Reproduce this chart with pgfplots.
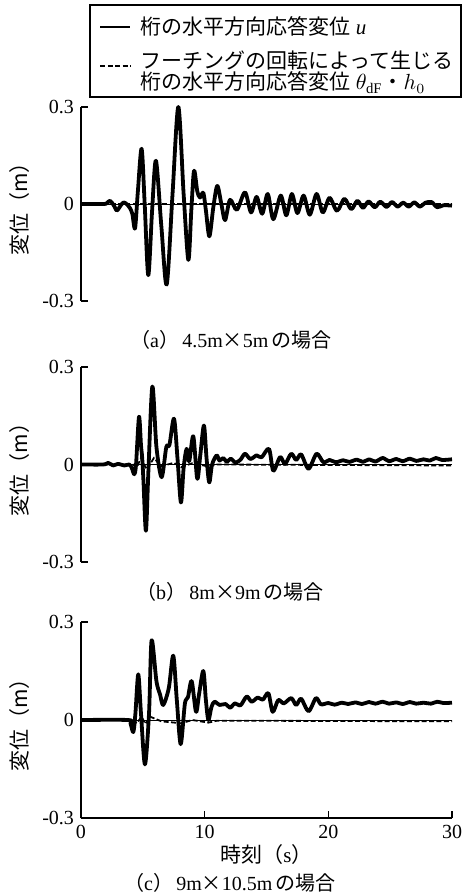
\documentclass[border=0pt]{standalone}
\usepackage{fontspec}
\setmainfont{Liberation Serif}
\newfontfamily\jp{Noto Sans CJK JP}
\newcommand{\J}[1]{{\jp #1}}
\usepackage{pgfplots}
\pgfplotsset{compat=1.18}

% shared look of the three panels
\pgfplotsset{
  panel/.style={
    scale only axis,
    width=185.5pt,
    xmin=0, xmax=30, ymin=-0.3, ymax=0.3,
    axis y line*=left,
    clip=false,
    ytick={-0.3,0,0.3},
    yticklabels={-0.3,0,0.3},
    tick align=inside,
    major tick length=3.5pt,
    axis line style={line width=0.6pt},
    tick style={line width=0.6pt,black},
    tick label style={font=\fontsize{10}{12}\selectfont},
    every axis y label/.style={at={(axis description cs:0,0.5)},xshift=-30.5pt,rotate=90,anchor=center},
    ylabel={\fontsize{10.5}{12}\selectfont\J{変位（m）}},
    anchor=south west,
  },
  resp/.style={black,line width=1.9pt,smooth,line join=round},
  rot/.style={black,line width=0.9pt,dash pattern=on 2.5pt off 1.2pt},
  zero/.style={black,line width=0.5pt,forget plot},
}

\begin{document}
\begin{tikzpicture}
\useasboundingbox (0,0) rectangle (231.5pt,-447.5pt);

% (a) 4.5m x 5m
\begin{axis}[panel, at={(40.5pt,-150.5pt)}, height=97pt,
  axis x line=none,
  legend style={at={(axis description cs:0.0485,1.4845)},anchor=north west,
    draw=none,fill=none,inner xsep=0pt,inner ysep=0pt,
    font=\fontsize{10.5}{10.5}\selectfont,row sep=3.8pt,column sep=3pt,
    nodes={inner sep=1.5pt}},
  legend cell align=left,
  legend image code/.code={\draw[#1,line width=1.1pt] (0pt,0pt) -- (15pt,0pt);},
]
\addplot[resp] coordinates {
(0,0) (1.8,0) (2.1,0.003) (2.35,0.01) (2.65,-0.004) (2.9,-0.02) (3.2,-0.005) (3.45,0.005)
(3.75,-0.002) (3.95,-0.012) (4.15,-0.03) (4.37,-0.075) (4.6,0.04) (4.9,0.171) (5.15,0.0)
(5.44,-0.22) (5.75,-0.02) (6.06,0.134) (6.5,-0.07) (6.93,-0.249) (7.4,0.03) (7.87,0.30)
(8.3,0.03) (8.68,-0.173) (8.92,-0.02) (9.14,0.103) (9.4,0.04) (9.62,0.02) (9.89,0.035)
(10.1,-0.02) (10.38,-0.10) (10.7,-0.01) (11.02,0.056) (11.35,0.0) (11.65,-0.05)
(12.05,0.013) (12.6,-0.018) (13.26,0.036) (13.75,-0.026) (14.2,0.022) (14.65,-0.03)
(15.1,0.031) (15.55,-0.047) (16.15,0.026) (16.6,-0.035) (17.05,0.031) (17.5,-0.028)
(18.0,0.026) (18.5,-0.033) (19.05,0.031) (19.55,-0.026) (20.1,0.019) (20.7,-0.021)
(21.3,0.016) (21.85,-0.016) (22.35,0.01) (22.8,-0.012) (23.25,0.008) (23.75,-0.01)
(24.2,0.007) (24.7,-0.009) (25.15,0.006) (25.6,-0.008) (26.05,0.004) (26.5,-0.008)
(26.95,0.005) (27.4,-0.008) (27.85,0.004) (28.35,0.006) (28.8,-0.01) (29.3,-0.004) (30,-0.005)
};
\addlegendentry{\J{桁の水平方向応答変位}\ \textit{u}}
\addplot[rot] coordinates {(0,0) (30,0)};
\addlegendentry{$\vcenter{\baselineskip=10.6pt
  \hbox{\J{フーチングの回転によって生じる}}
  \hbox{\J{桁の水平方向応答変位}\ $\theta_{\mathrm{dF}}$\J{・}$h_{0}$}}$}
\addplot[zero] coordinates {(0,0) (30,0)};
\end{axis}

% legend frame
\draw[line width=0.9pt] (45pt,-2.5pt) rectangle (230.5pt,-48.5pt);

% (b) 8m x 9m
\begin{axis}[panel, at={(40.5pt,-281pt)}, height=97.5pt, axis x line=none]
\addplot[resp] coordinates {
(0,0) (1.8,0) (2.2,0.005) (2.6,-0.003) (3.0,0.002) (3.5,-0.003) (3.9,0) (4.1,-0.01)
(4.31,-0.03) (4.45,0.0) (4.69,0.147) (4.85,0.06) (4.95,0.02) (5.05,-0.05) (5.25,-0.204)
(5.45,-0.02) (5.77,0.24) (6.1,0.054) (6.52,-0.039) (6.9,0.054) (7.15,0.06) (7.52,0.141)
(7.8,0.02) (8.08,-0.117) (8.3,-0.01) (8.54,0.048) (8.75,0.01) (9.08,0.087) (9.4,-0.044)
(9.65,0.03) (9.94,0.12) (10.15,0.02) (10.37,-0.055) (10.6,0.0) (10.97,0.028) (11.2,0.012)
(11.5,0.02) (11.8,0.008) (12.1,0.018) (12.5,0.006) (12.9,0.015) (13.26,0.033) (13.7,0.017)
(14.2,0.028) (14.6,0.022) (15.2,0.048) (15.55,-0.019) (16.1,0.023) (16.5,0.002) (17.0,0.033)
(17.4,0.014) (17.8,0.031) (18.4,-0.013) (19.05,0.033) (19.6,0.007) (20.1,0.014) (20.6,0.007)
(21.2,0.013) (21.7,0.008) (22.3,0.015) (22.8,0.008) (23.3,0.016) (23.8,0.009) (24.4,0.02)
(24.9,0.01) (25.5,0.017) (26.0,0.01) (26.6,0.018) (27.1,0.011) (27.7,0.016) (28.2,0.012)
(28.7,0.02) (29.2,0.014) (30,0.016)
};
\addplot[rot] coordinates {
(0,0) (4.2,0) (4.5,-0.01) (4.85,0.02) (5.3,-0.015) (5.9,0.02) (6.5,-0.005) (7.5,0.005)
(8.1,-0.008) (9,0.004) (10.3,-0.006) (11,0) (30,-0.003)
};
\addplot[zero] coordinates {(0,0) (30,0)};
\end{axis}

% (c) 9m x 10.5m
\begin{axis}[panel, at={(40.5pt,-409pt)}, height=98pt,
  axis x line*=bottom,
  xtick={0,10,20,30}, xticklabels={0,10,20,30},
  every axis x label/.style={at={(axis description cs:0.5,0)},anchor=center,yshift=-18.5pt},
  xlabel={\fontsize{10.5}{12}\selectfont\J{時刻（}s\J{）}},
]
\addplot[resp] coordinates {
(0,0) (3.8,0) (4.0,-0.01) (4.23,-0.037) (4.4,0.02) (4.63,0.14) (4.85,0.02) (5.17,-0.136)
(5.5,0.02) (5.71,0.244) (6.1,0.119) (6.4,0.077) (6.65,0.046) (7.1,0.098) (7.46,0.197)
(7.75,0.06) (8.06,-0.074) (8.4,0.05) (8.65,0.07) (8.95,0.119) (9.3,0.025) (9.55,0.08)
(9.89,0.15) (10.1,0.06) (10.3,0.0) (10.55,0.04) (10.8,0.056) (11.2,0.046) (11.7,0.049)
(12.05,0.0375) (12.45,0.051) (12.9,0.045) (13.4,0.072) (13.8,0.056) (14.3,0.069)
(14.7,0.062) (15.15,0.082) (15.5,0.025) (15.95,0.061) (16.4,0.051) (17.0,0.067)
(17.4,0.046) (17.8,0.065) (18.4,0.027) (19.0,0.067) (19.4,0.048) (20,0.052) (20.5,0.047)
(21.1,0.053) (21.6,0.049) (22.2,0.054) (22.7,0.049) (23.3,0.055) (23.8,0.05) (24.4,0.056)
(24.9,0.05) (25.5,0.054) (26.0,0.049) (26.6,0.055) (27.1,0.05) (27.7,0.053) (28.3,0.05)
(28.8,0.056) (29.3,0.052) (30,0.053)
};
\addplot[rot] coordinates {
(0,0) (4.2,0) (4.5,-0.01) (4.9,0.01) (5.2,-0.012) (5.6,0.01) (6.5,-0.004) (8.1,-0.01)
(9,0.0) (10.3,-0.008) (11,-0.002) (30,-0.004)
};
\addplot[zero] coordinates {(0,0) (30,0)};
\end{axis}

% panel captions
\node[font=\fontsize{10}{12}\selectfont] at (115.5pt,-170pt) {\J{（}a\J{）}\,4.5m\J{×}5m\,\J{の場合}};
\node[font=\fontsize{10}{12}\selectfont] at (115pt,-296pt) {\J{（}b\J{）}\,8m\J{×}9m\,\J{の場合}};
\node[font=\fontsize{10}{12}\selectfont] at (115pt,-441.5pt) {\J{（}c\J{）}\,9m\J{×}10.5m\,\J{の場合}};
\end{tikzpicture}
\end{document}
